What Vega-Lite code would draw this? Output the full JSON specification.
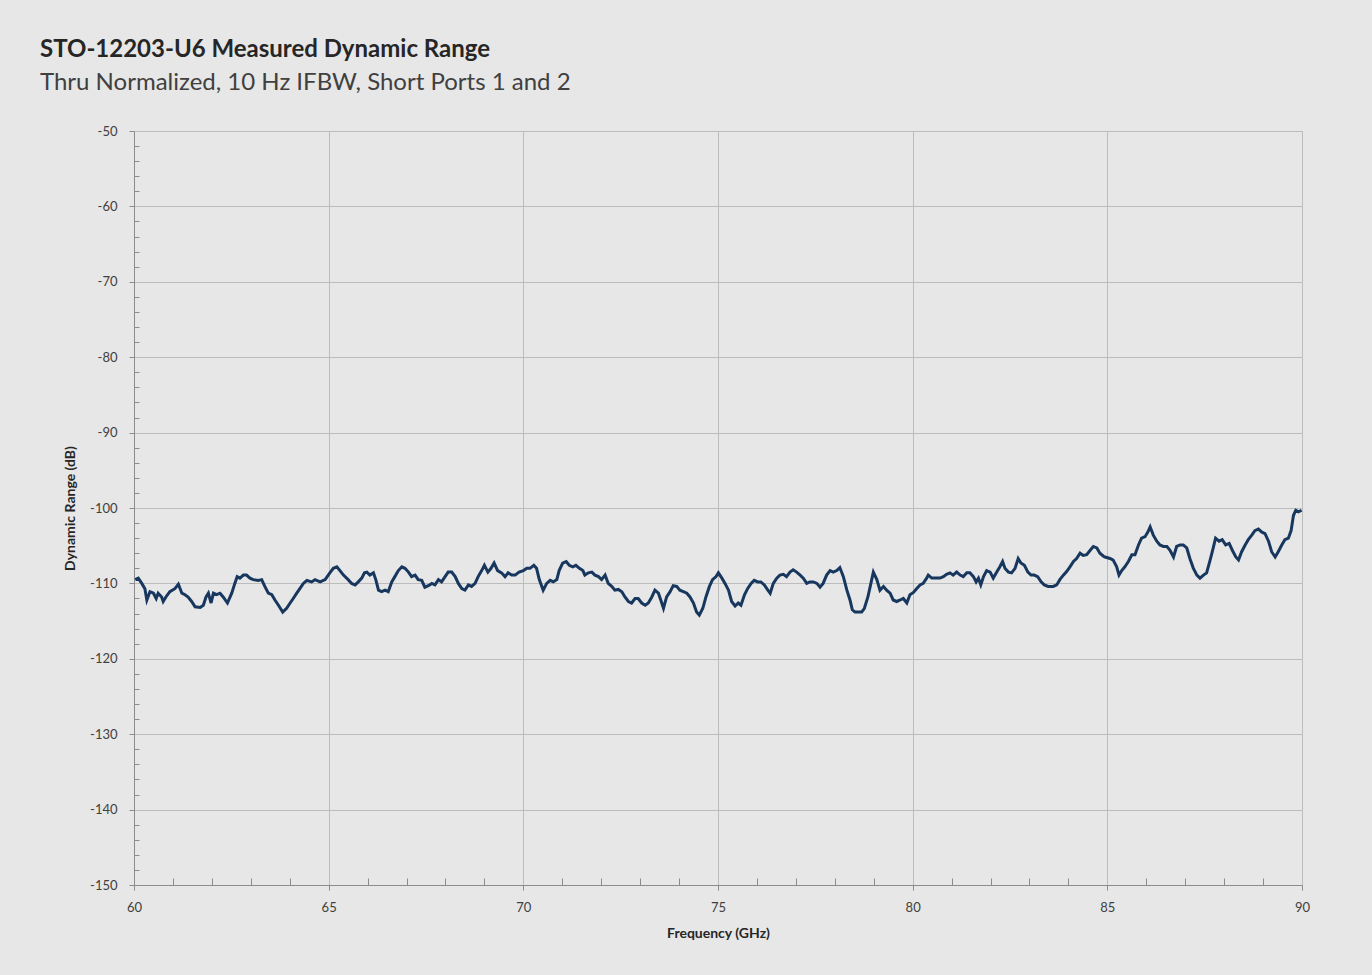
{
  "$schema": "https://vega.github.io/schema/vega-lite/v6.json",
  "width": 1168,
  "height": 754,
  "autosize": "none",
  "padding": {"left": 134, "top": 131, "right": 70, "bottom": 90},
  "background": "#e7e7e7",
  "config": {"view": {"stroke": null}, "font": "Lato"},
  "title": {
    "text": "STO-12203-U6 Measured Dynamic Range",
    "subtitle": "Thru Normalized, 10 Hz IFBW, Short Ports 1 and 2",
    "anchor": "start",
    "frame": "group",
    "dx": -94,
    "offset": 30,
    "font": "Lato",
    "fontSize": 24,
    "fontWeight": "bold",
    "color": "#262626",
    "subtitleFont": "Lato",
    "subtitleFontSize": 24,
    "subtitleColor": "#404040",
    "subtitlePadding": 9
  },
  "data": {"values": [
    {"f":60.03,"dr":-109.5},{"f":60.11,"dr":-109.3},{"f":60.20,"dr":-110},{"f":60.28,"dr":-110.7},{"f":60.33,"dr":-112.2},{"f":60.41,"dr":-111.1},{"f":60.50,"dr":-111.3},{"f":60.57,"dr":-112},{"f":60.62,"dr":-111.3},{"f":60.71,"dr":-111.8},{"f":60.75,"dr":-112.4},{"f":60.82,"dr":-111.8},{"f":60.92,"dr":-111.1},{"f":61.05,"dr":-110.7},{"f":61.14,"dr":-110.1},{"f":61.23,"dr":-111.3},{"f":61.31,"dr":-111.5},{"f":61.39,"dr":-111.8},{"f":61.48,"dr":-112.4},{"f":61.57,"dr":-113.1},{"f":61.70,"dr":-113.2},{"f":61.78,"dr":-112.9},{"f":61.85,"dr":-111.8},{"f":61.91,"dr":-111.3},{"f":61.98,"dr":-112.6},{"f":62.04,"dr":-111.3},{"f":62.12,"dr":-111.5},{"f":62.21,"dr":-111.3},{"f":62.29,"dr":-111.8},{"f":62.40,"dr":-112.6},{"f":62.51,"dr":-111.3},{"f":62.59,"dr":-110},{"f":62.65,"dr":-109.1},{"f":62.72,"dr":-109.3},{"f":62.81,"dr":-108.9},{"f":62.89,"dr":-108.9},{"f":62.98,"dr":-109.3},{"f":63.06,"dr":-109.5},{"f":63.19,"dr":-109.6},{"f":63.28,"dr":-109.5},{"f":63.36,"dr":-110.4},{"f":63.45,"dr":-111.3},{"f":63.54,"dr":-111.5},{"f":63.62,"dr":-112.2},{"f":63.71,"dr":-112.9},{"f":63.82,"dr":-113.8},{"f":63.92,"dr":-113.3},{"f":64.01,"dr":-112.6},{"f":64.09,"dr":-112},{"f":64.18,"dr":-111.3},{"f":64.26,"dr":-110.7},{"f":64.35,"dr":-110},{"f":64.44,"dr":-109.6},{"f":64.56,"dr":-109.8},{"f":64.65,"dr":-109.5},{"f":64.78,"dr":-109.8},{"f":64.91,"dr":-109.5},
    {"f":65.03,"dr":-108.6},{"f":65.12,"dr":-108},{"f":65.21,"dr":-107.8},{"f":65.29,"dr":-108.3},{"f":65.38,"dr":-108.9},{"f":65.50,"dr":-109.5},{"f":65.59,"dr":-110},{"f":65.68,"dr":-110.2},{"f":65.76,"dr":-109.8},{"f":65.85,"dr":-109.3},{"f":65.92,"dr":-108.6},{"f":65.98,"dr":-108.5},{"f":66.06,"dr":-108.9},{"f":66.15,"dr":-108.6},{"f":66.21,"dr":-109.5},{"f":66.28,"dr":-110.9},{"f":66.36,"dr":-111.1},{"f":66.45,"dr":-110.9},{"f":66.53,"dr":-111.1},{"f":66.62,"dr":-109.8},{"f":66.70,"dr":-109.1},{"f":66.79,"dr":-108.3},{"f":66.88,"dr":-107.8},{"f":66.96,"dr":-108},{"f":67.05,"dr":-108.5},{"f":67.13,"dr":-109.1},{"f":67.22,"dr":-108.9},{"f":67.30,"dr":-109.5},{"f":67.39,"dr":-109.6},{"f":67.47,"dr":-110.5},{"f":67.56,"dr":-110.3},{"f":67.65,"dr":-110},{"f":67.73,"dr":-110.2},{"f":67.82,"dr":-109.5},{"f":67.90,"dr":-109.8},{"f":67.99,"dr":-109.1},{"f":68.07,"dr":-108.5},{"f":68.16,"dr":-108.5},{"f":68.25,"dr":-109.1},{"f":68.33,"dr":-110},{"f":68.42,"dr":-110.7},{"f":68.50,"dr":-110.9},{"f":68.59,"dr":-110.2},{"f":68.67,"dr":-110.4},{"f":68.76,"dr":-110},{"f":68.84,"dr":-109.1},{"f":68.93,"dr":-108.3},{"f":69.00,"dr":-107.6},{"f":69.09,"dr":-108.5},{"f":69.17,"dr":-108},{"f":69.25,"dr":-107.3},{"f":69.34,"dr":-108.3},{"f":69.44,"dr":-108.6},{"f":69.53,"dr":-109.1},{"f":69.61,"dr":-108.6},{"f":69.70,"dr":-108.9},{"f":69.79,"dr":-108.9},{"f":69.89,"dr":-108.5},
    {"f":70.00,"dr":-108.3},{"f":70.09,"dr":-108},{"f":70.17,"dr":-108},{"f":70.27,"dr":-107.6},{"f":70.34,"dr":-108},{"f":70.41,"dr":-109.5},{"f":70.51,"dr":-110.9},{"f":70.60,"dr":-110},{"f":70.69,"dr":-109.6},{"f":70.77,"dr":-109.8},{"f":70.86,"dr":-109.5},{"f":70.92,"dr":-108.3},{"f":71.01,"dr":-107.3},{"f":71.10,"dr":-107.1},{"f":71.18,"dr":-107.6},{"f":71.27,"dr":-107.8},{"f":71.35,"dr":-107.6},{"f":71.44,"dr":-108},{"f":71.53,"dr":-108.3},{"f":71.58,"dr":-108.9},{"f":71.67,"dr":-108.6},{"f":71.76,"dr":-108.5},{"f":71.84,"dr":-108.9},{"f":71.93,"dr":-109.1},{"f":72.01,"dr":-109.5},{"f":72.10,"dr":-108.9},{"f":72.18,"dr":-110},{"f":72.27,"dr":-110.4},{"f":72.35,"dr":-110.9},{"f":72.44,"dr":-110.8},{"f":72.53,"dr":-111.1},{"f":72.61,"dr":-111.8},{"f":72.70,"dr":-112.4},{"f":72.78,"dr":-112.6},{"f":72.87,"dr":-112},{"f":72.95,"dr":-112},{"f":73.04,"dr":-112.6},{"f":73.13,"dr":-112.9},{"f":73.21,"dr":-112.6},{"f":73.30,"dr":-111.8},{"f":73.38,"dr":-110.9},{"f":73.47,"dr":-111.3},{"f":73.53,"dr":-112.2},{"f":73.60,"dr":-113.3},{"f":73.68,"dr":-111.8},{"f":73.77,"dr":-111.1},{"f":73.85,"dr":-110.3},{"f":73.94,"dr":-110.4},{"f":74.02,"dr":-110.9},{"f":74.11,"dr":-111.1},{"f":74.20,"dr":-111.3},{"f":74.28,"dr":-111.8},{"f":74.37,"dr":-112.6},{"f":74.45,"dr":-113.8},{"f":74.52,"dr":-114.2},{"f":74.61,"dr":-113.3},{"f":74.69,"dr":-111.8},{"f":74.78,"dr":-110.4},{"f":74.86,"dr":-109.5},{"f":74.95,"dr":-109.1},
    {"f":75.01,"dr":-108.6},{"f":75.10,"dr":-109.3},{"f":75.18,"dr":-110},{"f":75.27,"dr":-110.9},{"f":75.35,"dr":-112.4},{"f":75.44,"dr":-113},{"f":75.52,"dr":-112.6},{"f":75.59,"dr":-112.9},{"f":75.68,"dr":-111.5},{"f":75.76,"dr":-110.7},{"f":75.85,"dr":-110},{"f":75.93,"dr":-109.6},{"f":76.02,"dr":-109.8},{"f":76.10,"dr":-109.8},{"f":76.19,"dr":-110.2},{"f":76.28,"dr":-110.9},{"f":76.34,"dr":-111.3},{"f":76.42,"dr":-110},{"f":76.51,"dr":-109.3},{"f":76.59,"dr":-108.9},{"f":76.68,"dr":-108.8},{"f":76.76,"dr":-109.1},{"f":76.85,"dr":-108.5},{"f":76.93,"dr":-108.2},{"f":77.02,"dr":-108.5},{"f":77.11,"dr":-108.9},{"f":77.19,"dr":-109.3},{"f":77.28,"dr":-110},{"f":77.36,"dr":-109.8},{"f":77.45,"dr":-109.8},{"f":77.54,"dr":-110},{"f":77.62,"dr":-110.5},{"f":77.70,"dr":-110},{"f":77.79,"dr":-108.9},{"f":77.88,"dr":-108.3},{"f":77.96,"dr":-108.5},{"f":78.05,"dr":-108.3},{"f":78.13,"dr":-107.9},{"f":78.22,"dr":-109.1},{"f":78.31,"dr":-110.9},{"f":78.39,"dr":-112.2},{"f":78.45,"dr":-113.5},{"f":78.52,"dr":-113.8},{"f":78.60,"dr":-113.8},{"f":78.69,"dr":-113.8},{"f":78.76,"dr":-113.3},{"f":78.85,"dr":-111.8},{"f":78.91,"dr":-110.4},{"f":78.99,"dr":-108.5},{"f":79.08,"dr":-109.5},{"f":79.16,"dr":-110.9},{"f":79.25,"dr":-110.4},{"f":79.33,"dr":-110.9},{"f":79.42,"dr":-111.3},{"f":79.50,"dr":-112.2},{"f":79.59,"dr":-112.4},{"f":79.68,"dr":-112.2},{"f":79.76,"dr":-112},{"f":79.85,"dr":-112.6},{"f":79.93,"dr":-111.5},
    {"f":80.02,"dr":-111.2},{"f":80.10,"dr":-110.7},{"f":80.19,"dr":-110.2},{"f":80.27,"dr":-110},{"f":80.36,"dr":-109.3},{"f":80.40,"dr":-108.9},{"f":80.49,"dr":-109.3},{"f":80.57,"dr":-109.3},{"f":80.70,"dr":-109.3},{"f":80.79,"dr":-109.1},{"f":80.87,"dr":-108.8},{"f":80.96,"dr":-108.6},{"f":81.04,"dr":-108.9},{"f":81.13,"dr":-108.5},{"f":81.22,"dr":-108.9},{"f":81.30,"dr":-109.1},{"f":81.39,"dr":-108.6},{"f":81.47,"dr":-108.6},{"f":81.56,"dr":-109.1},{"f":81.63,"dr":-109.8},{"f":81.69,"dr":-109.3},{"f":81.75,"dr":-110.2},{"f":81.82,"dr":-109.1},{"f":81.90,"dr":-108.3},{"f":81.99,"dr":-108.5},{"f":82.07,"dr":-109.3},{"f":82.16,"dr":-108.5},{"f":82.24,"dr":-107.8},{"f":82.31,"dr":-107.1},{"f":82.37,"dr":-108},{"f":82.46,"dr":-108.5},{"f":82.54,"dr":-108.6},{"f":82.63,"dr":-108},{"f":82.71,"dr":-106.7},{"f":82.78,"dr":-107.3},{"f":82.87,"dr":-107.6},{"f":82.96,"dr":-108.5},{"f":83.04,"dr":-108.9},{"f":83.12,"dr":-108.9},{"f":83.21,"dr":-109.1},{"f":83.30,"dr":-109.8},{"f":83.38,"dr":-110.2},{"f":83.48,"dr":-110.4},{"f":83.61,"dr":-110.4},{"f":83.70,"dr":-110.2},{"f":83.78,"dr":-109.5},{"f":83.87,"dr":-108.9},{"f":83.96,"dr":-108.4},{"f":84.04,"dr":-107.8},{"f":84.13,"dr":-107.1},{"f":84.21,"dr":-106.7},{"f":84.30,"dr":-106},{"f":84.38,"dr":-106.3},{"f":84.47,"dr":-106.2},{"f":84.56,"dr":-105.6},{"f":84.64,"dr":-105.1},{"f":84.73,"dr":-105.3},{"f":84.81,"dr":-106},{"f":84.90,"dr":-106.4},
    {"f":84.94,"dr":-106.5},{"f":85.07,"dr":-106.7},{"f":85.15,"dr":-106.9},{"f":85.24,"dr":-107.8},{"f":85.30,"dr":-108.9},{"f":85.37,"dr":-108.3},{"f":85.45,"dr":-107.8},{"f":85.54,"dr":-107.1},{"f":85.63,"dr":-106.2},{"f":85.71,"dr":-106.2},{"f":85.80,"dr":-104.9},{"f":85.88,"dr":-104},{"f":85.97,"dr":-103.8},{"f":86.04,"dr":-103.2},{"f":86.10,"dr":-102.5},{"f":86.18,"dr":-103.6},{"f":86.27,"dr":-104.4},{"f":86.35,"dr":-104.9},{"f":86.44,"dr":-105.1},{"f":86.53,"dr":-105.1},{"f":86.61,"dr":-105.6},{"f":86.70,"dr":-106.5},{"f":86.78,"dr":-105.1},{"f":86.87,"dr":-104.9},{"f":86.95,"dr":-104.9},{"f":87.04,"dr":-105.3},{"f":87.12,"dr":-106.7},{"f":87.21,"dr":-108},{"f":87.30,"dr":-108.9},{"f":87.38,"dr":-109.3},{"f":87.47,"dr":-108.9},{"f":87.55,"dr":-108.6},{"f":87.64,"dr":-106.9},{"f":87.72,"dr":-105.3},{"f":87.78,"dr":-104},{"f":87.87,"dr":-104.4},{"f":87.95,"dr":-104.2},{"f":88.04,"dr":-104.9},{"f":88.13,"dr":-104.7},{"f":88.21,"dr":-105.6},{"f":88.30,"dr":-106.5},{"f":88.37,"dr":-106.9},{"f":88.45,"dr":-105.8},{"f":88.54,"dr":-104.9},{"f":88.62,"dr":-104.2},{"f":88.71,"dr":-103.6},{"f":88.79,"dr":-103},{"f":88.88,"dr":-102.8},{"f":88.97,"dr":-103.2},{"f":89.05,"dr":-103.4},{"f":89.14,"dr":-104.4},{"f":89.22,"dr":-105.8},{"f":89.31,"dr":-106.5},{"f":89.39,"dr":-105.8},{"f":89.48,"dr":-104.9},{"f":89.56,"dr":-104.2},{"f":89.65,"dr":-104},{"f":89.72,"dr":-103},{"f":89.78,"dr":-101},{"f":89.84,"dr":-100.3},{"f":89.91,"dr":-100.5},{"f":89.99,"dr":-100.3}
  ]},
  "layer": [
    {
      "mark": {"type": "line", "opacity": 0},
      "encoding": {
        "x": {
          "field": "f", "type": "quantitative",
          "scale": {"domain": [60, 90], "nice": false, "zero": false},
          "axis": {
            "orient": "bottom",
            "values": [60, 65, 70, 75, 80, 85, 90],
            "title": "Frequency (GHz)",
            "grid": true, "gridColor": "#bcbcbc", "gridWidth": 1,
            "domainColor": "#8c8c8c", "tickColor": "#8c8c8c", "tickSize": 5,
            "labelFlush": false,
            "labelPadding": 11, "labelFontSize": 13, "labelColor": "#404040", "labelFont": "Lato",
            "titleFontSize": 14, "titleFontWeight": "bold", "titleColor": "#262626", "titleFont": "Lato", "titlePadding": 12
          }
        },
        "y": {
          "field": "dr", "type": "quantitative",
          "scale": {"domain": [-150, -50], "nice": false, "zero": false},
          "axis": {
            "orient": "left",
            "values": [-150, -140, -130, -120, -110, -100, -90, -80, -70, -60, -50],
            "labelExpr": "datum.value + ''",
            "labelFlush": false,
            "title": "Dynamic Range (dB)",
            "grid": true, "gridColor": "#bcbcbc", "gridWidth": 1,
            "domainColor": "#8c8c8c", "tickColor": "#8c8c8c", "tickSize": 5,
            "labelPadding": 12, "labelFontSize": 13, "labelColor": "#404040", "labelFont": "Lato",
            "titleFontSize": 14, "titleFontWeight": "bold", "titleColor": "#262626", "titleFont": "Lato", "titlePadding": 12
          }
        }
      }
    },
    {
      "mark": {"type": "line", "color": "#17375e", "strokeWidth": 3},
      "encoding": {
        "x": {
          "field": "f", "type": "quantitative",
          "axis": {
            "orient": "bottom",
            "values": [61,62,63,64,66,67,68,69,71,72,73,74,76,77,78,79,81,82,83,84,86,87,88,89],
            "labels": false, "grid": false, "domain": false, "title": null,
            "tickSize": -7, "tickColor": "#8c8c8c"
          }
        },
        "y": {
          "field": "dr", "type": "quantitative",
          "axis": {
            "orient": "left",
            "values": [-148,-146,-144,-142,-138,-136,-134,-132,-128,-126,-124,-122,-118,-116,-114,-112,-108,-106,-104,-102,-98,-96,-94,-92,-88,-86,-84,-82,-78,-76,-74,-72,-68,-66,-64,-62,-58,-56,-54,-52],
            "labels": false, "grid": false, "domain": false, "title": null,
            "tickSize": -5, "tickColor": "#8c8c8c"
          }
        }
      }
    }
  ],
  "resolve": {"axis": {"x": "independent", "y": "independent"}}
}
